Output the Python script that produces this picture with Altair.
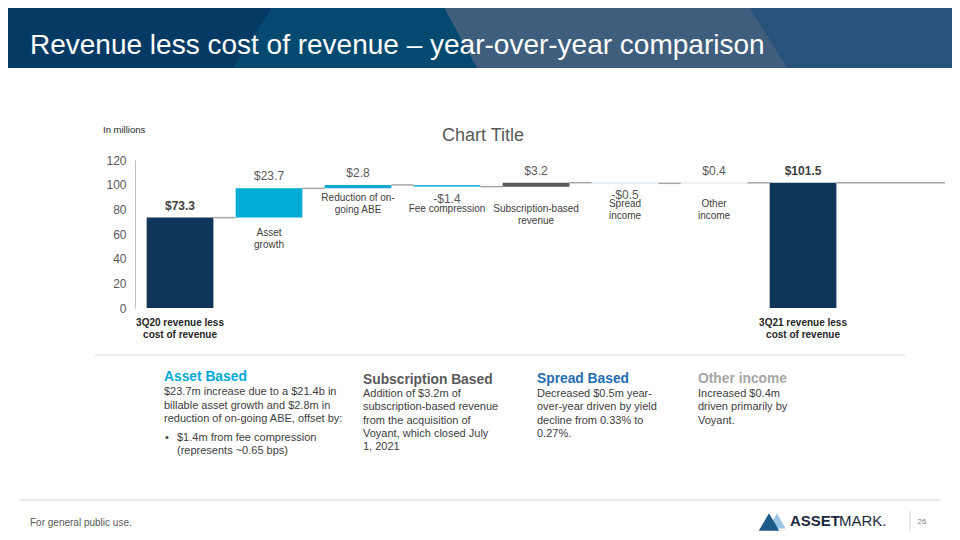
import altair as alt
import pandas as pd

# ---------------- data ----------------
categories = ["3Q20 revenue less\ncost of revenue", "Asset\ngrowth", "Reduction of on-\ngoing ABE",
              "Fee compression", "Subscription-based\nrevenue", "Spread\nincome", "Other\nincome",
              "3Q21 revenue less\ncost of revenue"]
changes = [73.3, 23.7, 2.8, -1.4, 3.2, -0.5, 0.4, 101.5]
value_labels = ["$73.3", "$23.7", "$2.8", "-$1.4", "$3.2", "-$0.5", "$0.4", "$101.5"]
is_total = [True, False, False, False, False, False, False, True]
y_ticks = [0, 20, 40, 60, 80, 100, 120]

# ---------------- style / layout ----------------
bar_colors = ["#0f3659", "#00acd4", "#13a7d0", "#2dbbe3", "#595959", "#9dc3e0", "#bfbfbf", "#0f3659"]
label_gap = [10, 10.5, 5, 17.5, 17.5, 16, 16, 10]   # px from bar bottom to category label
FONT = "Liberation Sans"
X_DOMAIN = [-0.506, 8.595]
Y_DOMAIN = [0, 120]
HALF = 0.375
PLOT_X, PLOT_Y = 135, 160          # slide position of plot origin
W, H = 810, 148

def px(X):
    return X - PLOT_X

def py(Y):
    return Y - PLOT_Y

# ---------------- waterfall table ----------------
rows = []
running = 0.0
for i, (c, v, lab, tot) in enumerate(zip(categories, changes, value_labels, is_total)):
    if tot:
        lo, hi = 0.0, v
        running = v
    else:
        s, e = running, running + v
        lo, hi = min(s, e), max(s, e)
        running = e
    rows.append(dict(idx=i, cat=c, lo=lo, hi=hi, end=running, label=lab, total=tot,
                     neg=(v < 0), x0=i - HALF, x1=i + HALF))
df = pd.DataFrame(rows)

conn = []
for i in range(len(rows)):
    x_end = (i + 1 - HALF) if i + 1 < len(rows) else X_DOMAIN[1]
    conn.append(dict(x0=i + HALF, x1=x_end, y=rows[i]["end"]))
conn_df = pd.DataFrame(conn)

xs = alt.Scale(domain=X_DOMAIN, nice=False, zero=False)
ys = alt.Scale(domain=Y_DOMAIN, nice=False)
y_axis = alt.Axis(values=y_ticks, title=None, grid=False, ticks=False,
                  labelFont=FONT, labelFontSize=12, labelColor="#595959",
                  labelPadding=9, domainColor="#bfbfbf", domainWidth=1)

def X(field):
    return alt.X(field, scale=xs, axis=None)

def Y(field):
    return alt.Y(field, scale=ys, axis=y_axis)

bars = alt.Chart(df).mark_rect().encode(
    x=X("x0:Q"), x2="x1:Q", y=Y("lo:Q"), y2="hi:Q",
    color=alt.Color("cat:N", scale=alt.Scale(domain=categories, range=bar_colors), legend=None),
)

connectors = alt.Chart(conn_df).mark_rule(color="#a6a6a6", strokeWidth=1.5).encode(
    x=X("x0:Q"), x2="x1:Q", y=Y("y:Q"))

pos_labels = alt.Chart(df).transform_filter("!datum.neg && !datum.total").mark_text(
    font=FONT, fontSize=12, color="#595959", baseline="bottom", dy=-5).encode(
    x=X("idx:Q"), y=Y("hi:Q"), text="label:N")

neg_labels = alt.Chart(df).transform_filter("datum.neg").mark_text(
    font=FONT, fontSize=12, color="#595959", baseline="top", dy=7).encode(
    x=X("idx:Q"), y=Y("lo:Q"), text="label:N")

tot_labels = alt.Chart(df).transform_filter("datum.total").mark_text(
    font=FONT, fontSize=12, fontWeight="bold", color="#404040", baseline="bottom", dy=-5).encode(
    x=X("idx:Q"), y=Y("hi:Q"), text="label:N")

cat_layers = []
for i in range(len(rows)):
    sub = df[df.idx == i]
    cat_layers.append(alt.Chart(sub).mark_text(
        font=FONT, fontSize=10, lineBreak="\n", lineHeight=12, baseline="top", dy=label_gap[i],
        color="#262626" if is_total[i] else "#404040",
        fontWeight="bold" if is_total[i] else "normal").encode(
        x=X("idx:Q"), y=Y("lo:Q"), text="cat:N"))

one = pd.DataFrame({"a": [0]})

def rect(X1, Y1, X2, Y2, color):
    return alt.Chart(one).mark_rect(color=color).encode(
        x=alt.value(px(X1)), x2=alt.value(px(X2)), y=alt.value(py(Y1)), y2=alt.value(py(Y2)))

def line(X1, Y1, X2, Y2, color, w=1):
    return alt.Chart(one).mark_rule(color=color, strokeWidth=w).encode(
        x=alt.value(px(X1)), x2=alt.value(px(X2)), y=alt.value(py(Y1)), y2=alt.value(py(Y2)))

def txt(Xp, Yp, s, size, color, weight="normal", align="left", lh=None):
    kw = dict(font=FONT, fontSize=size, color=color, fontWeight=weight, align=align,
              baseline="middle", text=s)
    if lh:
        kw.update(lineBreak="\n", lineHeight=lh)
    return alt.Chart(one).mark_text(**kw).encode(x=alt.value(px(Xp)), y=alt.value(py(Yp)))

def slant_rect(R, a, b, color):
    top, bot = 8, 68
    xa = a + (b - a) * (top - 0) / 68.0
    xb = b
    u0 = (xa - 8) / (R - 8)
    u1 = (xb - 8) / (R - 8)
    du = u1 - u0
    t = (u0 + max(du, 0) ** 2) / (1 + du * du) if du > 0 else u0 / (1 + du * du)
    grad = {"gradient": "linear", "x1": 0, "y1": max(du, 0), "x2": 1, "y2": max(-du, 0),
            "stops": [{"offset": 0, "color": color}, {"offset": t, "color": color},
                      {"offset": t, "color": "rgba(0,0,0,0)"}, {"offset": 1, "color": "rgba(0,0,0,0)"}]}
    return alt.Chart(one).mark_rect(color=grad).encode(
        x=alt.value(px(8)), x2=alt.value(px(R)), y=alt.value(py(top)), y2=alt.value(py(bot)))

header = [
    rect(8, 8, 952, 68, "#27527a"),
    slant_rect(790, 745, 787, "#3f5e7d"),
    slant_rect(480, 440, 477, "#044a70"),
    slant_rect(280, 277, 233, "#053a64"),
    txt(30, 46, "Revenue less cost of revenue – year-over-year comparison", 28, "#ffffff"),
]

deco = [
    txt(483, 136, "Chart Title", 18, "#595959", align="center"),
    txt(103, 130, "In millions", 9.5, "#262626"),
    line(95, 355, 905, 355, "#d9d9d9"),
    # Asset Based
    txt(164, 377, "Asset Based", 13.8, "#00a9d6", "bold"),
    txt(164, 392.3, "$23.7m increase due to a $21.4b in\nbillable asset growth and $2.8m in\nreduction of on-going ABE, offset by:",
        11, "#404040", lh=13.3),
    txt(165, 437.7, "•", 11, "#404040"),
    txt(177, 437.7, "$1.4m from fee compression\n(represents ~0.65 bps)", 11, "#404040", lh=13.3),
    # Subscription Based
    txt(363, 380, "Subscription Based", 13.8, "#595959", "bold"),
    txt(363, 394, "Addition of $3.2m of\nsubscription-based revenue\nfrom the acquisition of\nVoyant, which closed July\n1, 2021",
        11, "#404040", lh=13.3),
    # Spread Based
    txt(537, 379, "Spread Based", 13.8, "#1f6db3", "bold"),
    txt(537, 394, "Decreased $0.5m year-\nover-year driven by yield\ndecline from 0.33% to\n0.27%.",
        11, "#404040", lh=13.3),
    # Other income
    txt(698, 379, "Other income", 13.8, "#a6a6a6", "bold"),
    txt(698, 394, "Increased $0.4m\ndriven primarily by\nVoyant.", 11, "#404040", lh=13.3),
    # footer
    line(20, 500, 940, 500, "#e3e3e3", 1.5),
    txt(30, 523, "For general public use.", 10, "#595959"),
    alt.Chart(one).mark_point(shape="triangle-up", filled=True, size=300, color="#9cc4e4", opacity=1).encode(
        x=alt.value(px(777)), y=alt.value(py(521))),
    alt.Chart(one).mark_point(shape="triangle-up", filled=True, size=420, color="#1c5a8a", opacity=1).encode(
        x=alt.value(px(769)), y=alt.value(py(522))),
    txt(790, 521, "ASSET", 15, "#1b2a3e", "bold"),
    txt(839, 521, "MARK.", 15, "#1b2a3e"),
    line(910, 511, 910, 531, "#d9d9d9"),
    txt(922, 522, "26", 8, "#7f7f7f", align="center"),
]

chart = alt.layer(bars, *header, connectors, pos_labels, neg_labels, tot_labels, *cat_layers, *deco).properties(
    width=W, height=H,
    padding={"left": 127, "top": 152, "right": 7, "bottom": 224},
    autosize=alt.AutoSizeParams(type="none"),
    background="#ffffff",
).configure_view(strokeWidth=0)

chart.save("out.html", embed_options={"renderer": "svg", "actions": False})
